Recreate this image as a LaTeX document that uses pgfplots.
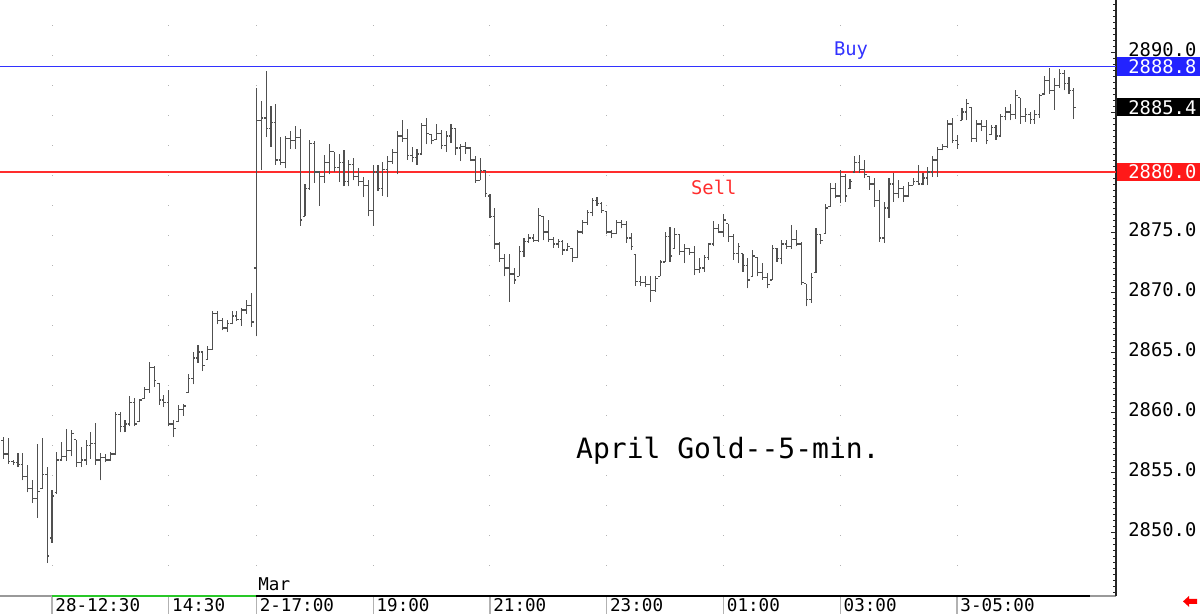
\documentclass[border=0pt]{standalone}
\usepackage{pgfplots}
\pgfplotsset{compat=1.18}
\usepackage{pgfplotstable}
\usepackage{fontspec}
\setmonofont{DejaVu Sans Mono}
\definecolor{barc}{RGB}{80,80,80}
\definecolor{buyblue}{RGB}{50,50,255}
\definecolor{sellred}{RGB}{255,45,45}
\definecolor{boxblue}{RGB}{35,35,255}
\definecolor{boxred}{RGB}{255,25,25}
\definecolor{sessgreen}{RGB}{40,200,40}
\pgfdeclareplotmark{otick}{\pgfpathmoveto{\pgfqpoint{-1.1pt}{0pt}}\pgfpathlineto{\pgfqpoint{0pt}{0pt}}\pgfusepathqstroke}
\pgfdeclareplotmark{ctick}{\pgfpathmoveto{\pgfqpoint{0pt}{0pt}}\pgfpathlineto{\pgfqpoint{1.1pt}{0pt}}\pgfusepathqstroke}
\newcommand{\lblfont}{\ttfamily\fontsize{9.4}{11}\selectfont}
\newcommand{\xlblfont}{\ttfamily\fontsize{8.8}{10}\selectfont}
% prices are plotted relative to a base of 2840 (tick labels show the real prices)
\newcommand{\base}{2840}

\pgfplotstableread{
i o h l c
-10 2857.6 2857.9 2856.1 2856.5
-9 2856.5 2857.8 2855.7 2855.9
-8 2855.9 2856.0 2855.6 2855.8
-7 2855.8 2856.6 2855.4 2855.6
-6 2855.6 2856.6 2854.3 2854.6
-5 2854.6 2855.6 2853.3 2853.6
-4 2853.6 2854.3 2852.4 2852.8
-3 2852.8 2857.3 2851.2 2853.4
-2 2853.6 2857.8 2853.6 2854.8
-1 2854.8 2855.4 2847.4 2848.0
0 2849.5 2853.5 2849.1 2853.0
1 2853.3 2856.7 2853.2 2856.0
2 2856.0 2857.5 2855.9 2856.3
3 2856.3 2858.6 2855.9 2856.8
4 2856.8 2858.5 2856.3 2858.2
5 2857.7 2857.7 2855.4 2855.8
6 2855.8 2857.1 2855.4 2856.0
7 2856.0 2857.7 2855.6 2857.2
8 2857.2 2858.3 2856.1 2857.4
9 2857.4 2859.1 2855.6 2856.0
10 2856.0 2856.6 2854.3 2856.2
11 2856.2 2856.5 2855.8 2856.0
12 2856.0 2856.7 2855.9 2856.5
13 2856.5 2860.0 2856.4 2859.8
14 2859.8 2860.0 2858.3 2858.8
15 2858.8 2859.3 2858.3 2859.0
16 2859.0 2861.3 2858.8 2860.8
17 2860.8 2861.2 2858.8 2859.0
18 2859.2 2861.1 2859.2 2861.0
19 2861.1 2862.1 2861.1 2861.9
20 2861.9 2864.2 2861.6 2863.7
21 2863.7 2863.8 2862.1 2862.6
22 2862.4 2862.4 2860.6 2861.0
23 2861.0 2861.4 2860.4 2860.8
24 2860.8 2861.8 2858.8 2859.0
25 2859.0 2859.3 2857.9 2858.6
26 2859.2 2860.6 2859.2 2860.2
27 2860.2 2860.7 2859.7 2860.5
28 2861.6 2863.2 2861.6 2862.8
29 2862.8 2865.0 2862.3 2864.5
30 2864.5 2865.6 2864.1 2865.0
31 2865.0 2865.0 2863.4 2863.9
32 2864.4 2865.5 2864.4 2865.2
33 2865.2 2868.4 2865.2 2868.2
34 2868.2 2868.4 2867.3 2867.6
35 2867.6 2867.8 2866.8 2867.0
36 2867.0 2867.7 2866.7 2867.4
37 2867.4 2868.4 2867.3 2868.0
38 2868.0 2868.4 2867.6 2867.7
39 2867.7 2868.7 2867.2 2868.5
40 2868.5 2869.3 2868.2 2868.9
41 2868.9 2869.9 2867.1 2867.5
42 2872.0 2887.0 2866.3 2884.3
43 2884.3 2885.9 2880.2 2884.5
44 2884.5 2888.4 2882.9 2883.6
45 2883.6 2885.5 2882.1 2884.1
46 2884.1 2885.7 2880.6 2881.0
47 2881.0 2882.9 2880.6 2880.8
48 2880.8 2883.0 2880.3 2882.8
49 2882.8 2883.4 2881.9 2882.6
50 2882.6 2883.8 2881.9 2882.9
51 2882.9 2883.6 2875.5 2876.0
52 2876.3 2879.0 2876.3 2878.6
53 2878.6 2882.7 2878.5 2882.4
54 2882.4 2882.6 2879.1 2880.0
55 2880.0 2880.0 2877.2 2879.6
56 2879.6 2881.4 2879.1 2880.8
57 2880.8 2882.3 2879.8 2881.7
58 2881.7 2881.7 2880.0 2880.4
59 2880.4 2881.5 2879.2 2880.8
60 2880.8 2881.8 2878.8 2879.2
61 2879.2 2881.0 2878.8 2880.6
62 2880.6 2881.2 2879.3 2879.6
63 2879.6 2880.3 2878.8 2879.2
64 2879.2 2879.6 2877.9 2878.9
65 2878.9 2879.3 2876.3 2876.8
66 2876.8 2880.6 2875.5 2880.0
67 2880.0 2880.6 2878.4 2878.6
68 2878.6 2880.8 2878.0 2880.2
69 2880.2 2881.3 2877.9 2880.9
70 2880.9 2881.9 2880.7 2881.6
71 2881.6 2883.4 2879.8 2883.0
72 2883.0 2884.3 2882.5 2882.8
73 2882.8 2883.6 2881.0 2881.4
74 2881.4 2882.1 2880.8 2881.2
75 2881.2 2881.9 2880.6 2881.5
76 2881.5 2884.1 2881.4 2883.9
77 2883.9 2884.5 2882.3 2883.2
78 2883.1 2883.1 2882.3 2882.6
79 2882.7 2884.0 2882.7 2883.2
80 2883.2 2883.5 2881.9 2882.2
81 2882.2 2883.4 2881.7 2883.0
82 2883.0 2884.0 2882.4 2883.6
83 2883.6 2883.6 2881.4 2882.0
84 2882.0 2882.3 2880.9 2882.1
85 2882.1 2882.5 2881.5 2882.0
86 2882.0 2882.1 2880.9 2881.0
87 2881.0 2881.3 2879.1 2879.3
88 2879.3 2881.2 2879.3 2880.1
89 2880.1 2880.2 2877.9 2878.2
90 2878.0 2878.2 2876.2 2876.3
91 2876.3 2877.0 2873.6 2874.0
92 2874.0 2874.2 2872.5 2872.8
93 2872.8 2873.2 2871.3 2872.0
94 2872.0 2873.2 2869.2 2871.5
95 2871.5 2872.0 2870.7 2871.0
96 2871.3 2873.8 2871.3 2873.4
97 2873.4 2874.5 2872.9 2874.2
98 2874.2 2874.8 2874.1 2874.5
99 2874.5 2874.8 2874.2 2874.3
100 2874.3 2877.0 2874.2 2876.4
101 2876.3 2876.3 2874.3 2875.0
102 2875.0 2876.0 2874.2 2874.4
103 2874.4 2874.6 2873.7 2874.0
104 2874.0 2874.4 2873.7 2874.2
105 2874.2 2874.3 2873.1 2873.5
106 2873.5 2874.1 2873.5 2873.8
107 2873.6 2873.6 2872.5 2872.9
108 2872.9 2875.2 2872.8 2875.0
109 2875.0 2876.0 2874.8 2875.8
110 2875.8 2876.8 2875.6 2876.6
111 2876.6 2877.8 2876.3 2877.6
112 2877.6 2877.9 2877.2 2877.4
113 2877.4 2877.5 2876.6 2876.8
114 2876.7 2876.7 2874.8 2875.0
115 2875.0 2875.2 2874.5 2874.9
116 2874.9 2876.0 2874.8 2875.8
117 2875.8 2876.0 2875.3 2875.6
118 2875.6 2875.9 2874.1 2874.5
119 2874.5 2874.9 2873.5 2873.8
120 2873.1 2873.1 2870.5 2870.9
121 2870.9 2871.3 2870.5 2870.8
122 2870.8 2871.3 2870.4 2870.6
123 2870.6 2871.3 2869.2 2870.1
124 2870.1 2871.3 2870.0 2871.1
125 2871.3 2872.7 2871.3 2872.5
126 2872.5 2875.0 2872.5 2874.6
127 2874.6 2875.4 2872.5 2873.0
128 2873.6 2875.3 2873.6 2874.8
129 2874.8 2874.8 2873.1 2873.4
130 2873.4 2874.0 2872.4 2873.6
131 2873.6 2873.7 2873.1 2873.3
132 2873.3 2873.8 2871.4 2871.9
133 2871.9 2872.8 2871.6 2872.0
134 2872.0 2873.1 2871.7 2872.9
135 2872.9 2874.1 2872.7 2874.0
136 2874.0 2875.9 2873.8 2875.3
137 2875.3 2875.7 2874.9 2875.0
138 2875.0 2876.5 2874.6 2876.0
139 2875.7 2875.7 2874.2 2874.6
140 2874.6 2874.8 2872.7 2873.2
141 2873.2 2874.1 2872.4 2873.8
142 2873.2 2873.2 2871.7 2872.2
143 2872.2 2872.8 2870.3 2871.0
144 2871.3 2873.5 2871.3 2873.0
145 2872.9 2872.9 2871.3 2871.6
146 2871.6 2872.4 2871.0 2871.2
147 2871.2 2871.6 2870.3 2870.6
148 2871.0 2873.9 2871.0 2873.6
149 2873.6 2873.7 2872.5 2872.8
150 2872.8 2874.3 2872.3 2874.0
151 2874.0 2874.3 2873.6 2873.8
152 2873.8 2875.6 2873.6 2874.4
153 2874.4 2875.2 2873.8 2874.0
154 2874.0 2874.2 2870.6 2870.8
155 2870.7 2870.7 2868.8 2869.4
156 2869.4 2871.6 2869.1 2871.2
157 2871.6 2875.3 2871.6 2874.8
158 2874.8 2874.8 2874.0 2874.3
159 2874.9 2877.3 2874.9 2877.0
160 2877.1 2879.1 2877.1 2878.6
161 2878.6 2879.1 2877.8 2878.0
162 2878.0 2880.2 2877.4 2879.6
163 2879.6 2879.8 2877.5 2878.0
164 2878.6 2879.4 2878.6 2879.2
165 2880.0 2881.3 2880.0 2880.8
166 2880.8 2881.4 2879.9 2880.2
167 2880.2 2881.0 2879.5 2879.8
168 2879.6 2879.6 2878.5 2879.0
169 2879.0 2879.5 2877.1 2877.6
170 2877.6 2878.5 2874.2 2874.5
171 2874.5 2877.5 2874.1 2877.0
172 2877.0 2879.5 2876.2 2879.0
173 2879.0 2879.9 2877.5 2878.2
174 2878.2 2879.3 2877.8 2878.6
175 2878.6 2878.8 2877.5 2878.0
176 2878.0 2879.2 2877.9 2878.9
177 2878.9 2879.5 2878.9 2879.2
178 2879.2 2880.6 2878.9 2879.0
179 2879.0 2879.9 2878.9 2879.5
180 2879.5 2880.4 2878.9 2880.0
181 2880.0 2881.3 2879.6 2881.0
182 2881.0 2882.1 2879.6 2881.9
183 2881.9 2882.3 2881.8 2882.1
184 2882.1 2884.3 2882.0 2884.0
185 2884.0 2884.5 2882.4 2882.6
186 2882.6 2883.1 2881.9 2882.3
187 2884.3 2885.3 2884.3 2885.0
188 2885.0 2886.1 2884.3 2885.7
189 2885.4 2885.4 2882.5 2882.8
190 2882.8 2884.3 2882.5 2884.0
191 2884.0 2884.3 2883.4 2883.8
192 2883.8 2884.3 2882.3 2882.6
193 2883.1 2883.9 2883.1 2883.7
194 2883.7 2883.9 2882.7 2883.0
195 2883.0 2884.8 2882.9 2884.6
196 2884.6 2885.4 2884.3 2885.0
197 2885.0 2885.7 2884.3 2884.8
198 2884.8 2886.8 2884.4 2886.4
199 2886.2 2886.2 2884.0 2884.6
200 2884.6 2885.3 2884.2 2884.8
201 2884.8 2885.0 2884.0 2884.4
202 2884.4 2885.2 2884.0 2884.8
203 2884.8 2886.5 2884.5 2886.4
204 2886.5 2888.0 2886.5 2887.6
205 2887.6 2888.7 2886.5 2886.8
206 2886.8 2887.8 2885.2 2887.2
207 2887.2 2888.6 2887.0 2888.2
208 2888.2 2888.5 2886.8 2887.4
209 2887.4 2887.9 2886.5 2886.8
210 2886.8 2887.0 2884.4 2885.4
}\ohlc

\begin{document}
\begin{tikzpicture}
\useasboundingbox (0pt,-9pt) rectangle (600pt,298pt);
\begin{axis}[
  at={(0pt,0pt)}, anchor=south west, scale only axis,
  width=558pt, height=298pt,
  xmin=-10.69, xmax=218.66, ymin=4.667, ymax=54.333,
  clip=false,
  separate axis lines,
  axis x line*=bottom, axis y line*=right,
  x axis line style={-, draw=black!40, line width=0.9pt},
  y axis line style={-, draw=black!85, line width=0.6pt},
  xtick={0,24,42,66,90,114,138,162,186},
  xticklabels={28-12:30,14:30,2-17:00,19:00,21:00,23:00,01:00,03:00,3-05:00},
  xtick style={draw=none},
  xticklabel style={anchor=north west, inner sep=0pt, xshift=1.5pt, yshift=-1.2pt, font=\xlblfont},
  xmajorgrids,
  major grid style={draw=black!30, line width=0.5pt, dash pattern=on 0.5pt off 14.5pt},
  ytick={10,15,20,25,30,35,40,45,50},
  yticklabels={2850.0,2855.0,2860.0,2865.0,2870.0,2875.0,,,2890.0},
  minor ytick={5,5.5,...,54},
  ytick align=inside,
  ytick style={draw=black!85, line width=0.4pt},
  major tick length=2.5pt, minor tick length=1.3pt,
  yticklabel style={anchor=west, inner sep=0pt, xshift=6pt, yshift=1pt, font=\lblfont},
]
% buy / sell levels (2888.8 and 2880.0)
\addplot[buyblue, line width=0.55pt, forget plot] coordinates {(-10.69,48.8) (218.66,48.8)};
\addplot[sellred, line width=0.55pt, forget plot] coordinates {(-10.69,40.0) (218.66,40.0)};
% OHLC bars: high-low range
\addplot[draw=none, mark=none, forget plot,
  error bars/.cd, y dir=plus, y explicit, error mark=none,
  error bar style={draw=barc, line width=0.55pt, solid}]
  table[x=i, y expr=\thisrow{l}-\base, y error expr=\thisrow{h}-\thisrow{l}] {\ohlc};
% open (left tick) and close (right tick)
\addplot[draw=none, mark=otick, mark options={draw=barc, line width=0.55pt}, forget plot]
  table[x=i, y expr=\thisrow{o}-\base] {\ohlc};
\addplot[draw=none, mark=ctick, mark options={draw=barc, line width=0.55pt}, forget plot]
  table[x=i, y expr=\thisrow{c}-\base] {\ohlc};
% time separators below axis
\pgfplotsinvokeforeach{0,24,42,66,90,114,138,162,186}{
  \draw[black!30, line width=0.6pt] (axis cs:#1,4.667) -- ++(0pt,-9pt);
}
% session bar
\draw[sessgreen, line width=1.2pt] (axis cs:0,4.667) -- (axis cs:42,4.667);
\draw[black, line width=1.2pt] (axis cs:42,4.667) -- (axis cs:213.3,4.667);
\node[anchor=south west, inner sep=0pt, font=\xlblfont, xshift=0.8pt, yshift=2.5pt] at (axis cs:42,4.667) {Mar};
% texts
\node[text=buyblue, font=\lblfont] at (axis cs:164.2,50.1) {Buy};
\node[text=sellred, font=\lblfont] at (axis cs:136.0,38.75) {Sell};
\node[font=\ttfamily\fontsize{14}{16}\selectfont] at (axis cs:138.9,16.8) {April Gold-{}-5-min.};
% right price boxes
\fill[boxblue] (axis cs:218.66,48.8) ++(0.6pt,-4.6pt) rectangle ++(42pt,9.3pt);
\node[anchor=west, inner sep=0pt, text=white, font=\lblfont, xshift=6pt] at (axis cs:218.66,48.8) {2888.8};
\fill[black] (axis cs:218.66,45.4) ++(0.6pt,-4.6pt) rectangle ++(42pt,9.3pt);
\node[anchor=west, inner sep=0pt, text=white, font=\lblfont, xshift=6pt] at (axis cs:218.66,45.4) {2885.4};
\fill[boxred] (axis cs:218.66,40.0) ++(0.6pt,-4.6pt) rectangle ++(42pt,9.3pt);
\node[anchor=west, inner sep=0pt, text=white, font=\lblfont, xshift=6pt] at (axis cs:218.66,40.0) {2880.0};
\end{axis}
\fill[red] (591.5pt,-2.7pt) -- (594.5pt,0pt) -- (594.5pt,-1.5pt) -- (598.5pt,-1.5pt) -- (598.5pt,-3.9pt) -- (594.5pt,-3.9pt) -- (594.5pt,-5.4pt) -- cycle;
\end{tikzpicture}
\end{document}
